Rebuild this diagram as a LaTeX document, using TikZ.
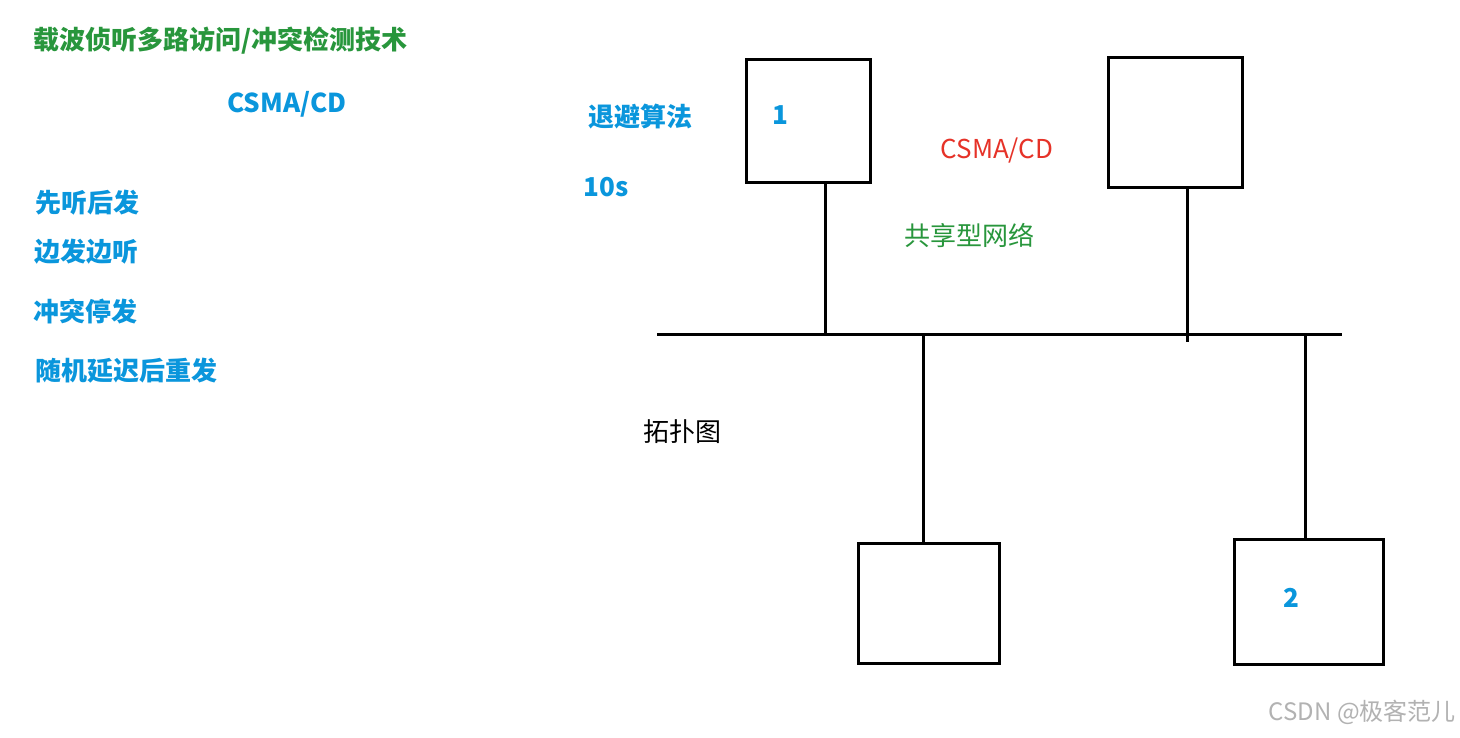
\documentclass[tikz,border=0pt]{standalone}
\usepackage{fontspec}
\setmainfont{Noto Sans CJK SC}
\definecolor{tgreen}{RGB}{40,150,60}
\definecolor{tblue}{RGB}{10,150,220}
\definecolor{tred}{RGB}{230,50,40}
\tikzset{
  box/.style={draw,line width=3pt},
  wire/.style={line width=3pt},
  bl/.style={text=tblue,font=\fontsize{26}{30}\selectfont\bfseries,inner sep=0pt},
  gl/.style={text=tgreen,font=\fontsize{26}{30}\selectfont\bfseries,inner sep=0pt},
}
\begin{document}
\begin{tikzpicture}[x=1pt,y=-1pt]
\useasboundingbox[fill=white] (0,0) rectangle (1460,738);
\node[box,minimum width=124pt,minimum height=123pt] (b1) at (808,121.5) {};
\node[box,minimum width=134pt,minimum height=130pt] (b2) at (1175,123) {};
\node[box,minimum width=141pt,minimum height=120pt] (b3) at (928.5,603) {};
\node[box,minimum width=149pt,minimum height=125pt] (b4) at (1308.5,601.5) {};
\coordinate (busl) at (657,334);
\coordinate (busr) at (1342,334);
\draw[wire] (busl) -- (busr);
\draw[wire] (825,183) -- (825,334);
\draw[wire] (1187,188) -- (1187,342);
\draw[wire] (923,334) -- (923,543);
\draw[wire] (1305,334) -- (1305,539);
\node[bl] (n1) at (780,115) {1};
\node[bl] (n2) at (1291,598) {2};
\node[gl,anchor=west] (t) at (33,41) {载波侦听多路访问/冲突检测技术};
\node[bl] (c1) at (287,104) {CSMA/CD};
\node[bl,anchor=west] (a) at (35,203) {先听后发};
\node[bl,anchor=west] (b) at (34,252) {边发边听};
\node[bl,anchor=west] (c) at (33,312) {冲突停发};
\node[bl,anchor=west] (d) at (35,371) {随机延迟后重发};
\node[bl] (e) at (640,117) {退避算法};
\node[bl] (f) at (606,187) {10s};
\node[text=tred,font=\fontsize{26}{30}\selectfont,inner sep=0pt] (g) at (997,151) {CSMA/CD};
\node[text=tgreen,font=\fontsize{26}{30}\selectfont,inner sep=0pt] (h) at (969,235) {共享型网络};
\node[font=\fontsize{26}{30}\selectfont,inner sep=0pt] (k) at (682,432) {拓扑图};
\node[text=gray!60,font=\fontsize{24}{28}\selectfont,inner sep=0pt,anchor=east] (w) at (1456,712) {CSDN @极客范儿};
\end{tikzpicture}
\end{document}
